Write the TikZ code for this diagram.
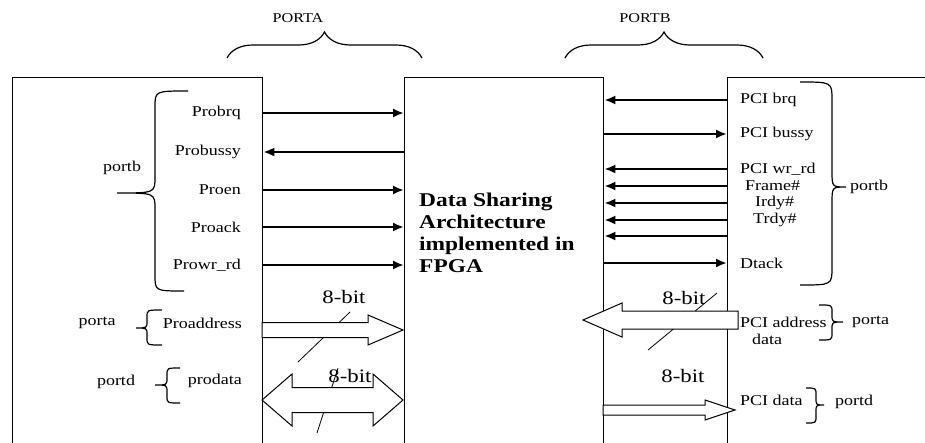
\documentclass[tikz,border=0pt]{standalone}
\usepackage{fontspec}
\setmainfont{Liberation Serif}[FakeStretch=1.2]
\usetikzlibrary{arrows.meta,decorations.pathreplacing}

\begin{document}
\begin{tikzpicture}[
        x=1pt, y=-1pt,
        box/.style={draw, line width=1.3pt, minimum width=#1, minimum height=400pt, anchor=north west, inner sep=0pt},
        sig/.style={font=\fontsize{15}{17}\selectfont, inner sep=0pt},
        lsig/.style={sig, anchor=east},
        rsig/.style={sig, anchor=west},
        title/.style={font=\fontsize{19.5}{22}\selectfont\bfseries, align=left, inner sep=0pt},
        bit/.style={font=\fontsize{19}{22}\selectfont, inner sep=0pt},
        port/.style={font=\fontsize{13.5}{16}\selectfont, inner sep=0pt},
        wire/.style={line width=2.2pt, -{Latex[length=11pt,width=9pt]}},
        bus/.style={draw, line width=1pt, fill=white},
        tick/.style={line width=0.8pt},
        brc/.style={line width=1.2pt},
        topbrc/.style={brc, decorate, decoration={brace, amplitude=#1}}
    ]
    \useasboundingbox (0,0) rectangle (925,442);

    \node[box=250pt] (procbox) at (12,77) {};
    \node[box=199pt] (fpga) at (404,77) {};
    \node[box=250pt] (pcibox) at (727,77) {};

    \node[title, anchor=west] (dsa) at (419,233) {Data Sharing\\Architecture\\implemented in\\FPGA};

    \node[port] (porta) at (298,18) {PORTA};
    \draw[topbrc=26pt] (227,58) -- (422,58);
    \node[port] (portb) at (645,18) {PORTB};
    \draw[topbrc=26pt] (565,58) -- (763,58);

    \node[lsig] (probrq) at (241,113) {Probrq};
    \node[lsig] (probussy) at (241,152) {Probussy};
    \node[lsig] (proen) at (241,190) {Proen};
    \node[lsig] (proack) at (241,227) {Proack};
    \node[lsig] (prowr) at (241,265) {Prowr\_rd};
    \node[lsig] (proaddr) at (242,323) {Proaddress};
    \node[lsig] (prodata) at (242,381) {prodata};

    \draw[wire] (probrq -| procbox.east) -- (probrq -| fpga.west);
    \draw[wire] (probussy -| fpga.west) -- (probussy -| procbox.east);
    \draw[wire] (proen -| procbox.east) -- (proen -| fpga.west);
    \draw[wire] (proack -| procbox.east) -- (proack -| fpga.west);
    \draw[wire] (prowr -| procbox.east) -- (prowr -| fpga.west);

    \draw[brc] (188,91) .. controls (155,91) .. (155,107) -- (155,177) .. controls (155,193) .. (117,193)
        .. controls (155,193) .. (155,209) -- (155,275) .. controls (155,291) .. (184,291);
    \node[sig] (lportb) at (122,168) {portb};
    \draw[brc] (162,310) .. controls (147,310) .. (147,317) -- (147,321) .. controls (147,328) .. (136,328)
        .. controls (147,328) .. (147,335) -- (147,338) .. controls (147,345) .. (162,345);
    \node[sig] (lporta) at (97,323) {porta};
    \draw[brc] (180,368) .. controls (167,368) .. (167,375) -- (167,378) .. controls (167,385) .. (155,385)
        .. controls (167,385) .. (167,392) -- (167,396) .. controls (167,403) .. (180,403);
    \node[sig] (lportd) at (116,382) {portd};

    \node[rsig] (pcibrq) at (740,100) {PCI brq};
    \node[rsig] (pcibussy) at (740,134) {PCI bussy};
    \node[rsig] (pciwr) at (740,169) {PCI wr\_rd};
    \node[rsig] (frame) at (745,186) {Frame\#};
    \node[rsig] (irdy) at (755,203) {Irdy\#};
    \node[rsig] (trdy) at (753,220) {Trdy\#};
    \coordinate (spare) at (727,236);
    \node[rsig] (dtack) at (740,263) {Dtack};
    \node[rsig, align=left] (pciaddr) at (740,331) {PCI address\\\hspace{12pt}data};
    \node[rsig] (pcidata) at (740,400) {PCI data};

    \draw[wire] (pcibrq -| pcibox.west) -- (pcibrq -| fpga.east);
    \draw[wire] (pcibussy -| fpga.east) -- (pcibussy -| pcibox.west);
    \draw[wire] (pciwr -| pcibox.west) -- (pciwr -| fpga.east);
    \draw[wire] (frame -| pcibox.west) -- (frame -| fpga.east);
    \draw[wire] (irdy -| pcibox.west) -- (irdy -| fpga.east);
    \draw[wire] (trdy -| pcibox.west) -- (trdy -| fpga.east);
    \draw[wire] (spare) -- (spare -| fpga.east);
    \draw[wire] (dtack -| fpga.east) -- (dtack -| pcibox.west);

    \draw[brc] (800,82) .. controls (832,82) .. (832,100) -- (832,171) .. controls (832,187) .. (846,187)
        .. controls (832,187) .. (832,203) -- (832,267) .. controls (832,285) .. (800,285);
    \node[rsig] (rportb) at (850,187) {portb};
    \draw[brc] (819,305) .. controls (832,305) .. (832,312) -- (832,315) .. controls (832,322) .. (843,322)
        .. controls (832,322) .. (832,329) -- (832,333) .. controls (832,340) .. (819,340);
    \node[rsig] (rporta) at (852,322) {porta};
    \draw[brc] (806,388) .. controls (816,388) .. (816,395) -- (816,398) .. controls (816,405) .. (824,405)
        .. controls (816,405) .. (816,412) -- (816,416) .. controls (816,423) .. (806,423);
    \node[rsig] (rportd) at (835,402) {portd};

    \draw[tick] (298,362) -- (350,312);
    \draw[tick] (317,433) -- (338,368);
    \draw[tick] (648,350) -- (717,293);

    \coordinate (addrtail) at (262,330);
    \draw[bus] (addrtail) ++(0,-7.5) -- ++(106,0) -- ++(0,-7.5) -- ++(35,15) -- ++(-35,15) -- ++(0,-7.5) -- ++(-106,0) -- cycle;
    \coordinate (datatip) at (262,400);
    \draw[bus] (datatip) -- ++(30,-26) -- ++(0,13.5) -- ++(81,0) -- ++(0,-13.5) -- ++(30,26) -- ++(-30,26) -- ++(0,-13.5) -- ++(-81,0) -- ++(0,13.5) -- cycle;
    \coordinate (pciaddrtail) at (738,320);
    \draw[bus] (pciaddrtail) ++(0,-9) -- ++(-116,0) -- ++(0,-8) -- ++(-39,17) -- ++(39,17) -- ++(0,-8) -- ++(116,0) -- cycle;
    \coordinate (pcidatatail) at (603,410);
    \draw[bus] (pcidatatail) ++(0,-5) -- ++(102,0) -- ++(0,-5) -- ++(30,10) -- ++(-30,10) -- ++(0,-5) -- ++(-102,0) -- cycle;

    \node[bit] (bitaddr) at (344,297) {8-bit};
    \node[bit] (bitdata) at (350,376) {8-bit};
    \node[bit] (bitpciaddr) at (684,298) {8-bit};
    \node[bit] (bitpcidata) at (683,376) {8-bit};
\end{tikzpicture}
\end{document}
